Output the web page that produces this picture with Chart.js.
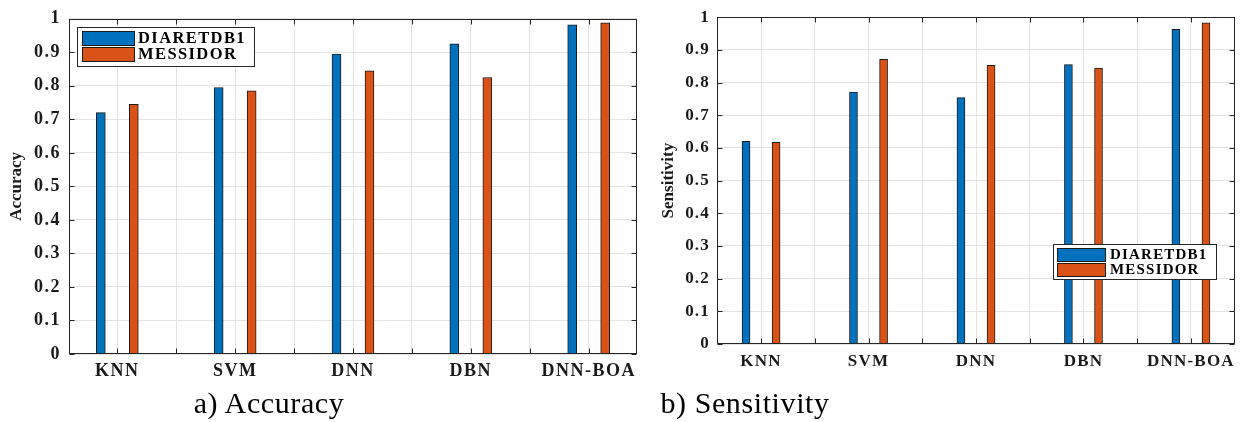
<!DOCTYPE html>
<html>
<head>
<meta charset="utf-8">
<script src="https://cdn.jsdelivr.net/npm/chart.js@4.4.1/dist/chart.umd.min.js"></script>
<style>
  html, body { margin: 0; padding: 0; background: #fff; }
  #wrap { position: relative; width: 1242px; height: 422px; overflow: hidden; }
  canvas { position: absolute; top: 0; }
  .cap {
    position: absolute; top: 386px; white-space: nowrap; color: #000;
    font-family: "Liberation Serif", "Times New Roman", serif; font-size: 30px;
    letter-spacing: 0.6px; transform: translateX(-50%);
  }
</style>
</head>
<body>
<div id="wrap">
  <canvas id="cAcc" width="645" height="390" style="left:0"></canvas>
  <canvas id="cSens" width="597" height="390" style="left:645px"></canvas>
  <div class="cap" style="left:269px">a) Accuracy</div>
  <div class="cap" style="left:745px">b) Sensitivity</div>
</div>
<script>
// ── data ─────────────────────────────────────────
const methods       = ['KNN', 'SVM', 'DNN', 'DBN', 'DNN-BOA'];
const seriesNames   = ['DIARETDB1', 'MESSIDOR'];
const accDiaretdb1  = [0.720, 0.795, 0.895, 0.925, 0.982];
const accMessidor   = [0.745, 0.785, 0.845, 0.825, 0.988];
const sensDiaretdb1 = [0.620, 0.771, 0.754, 0.855, 0.963];
const sensMessidor  = [0.617, 0.871, 0.853, 0.844, 0.983];
const yTicks        = [0, 0.1, 0.2, 0.3, 0.4, 0.5, 0.6, 0.7, 0.8, 0.9, 1];

const BLUE   = '#0072BD';
const ORANGE = '#D95319';
const SERIF  = '"Liberation Serif", "Times New Roman", serif';

// grid every half step, labels only on the whole positions
const xTicks = methods.flatMap((m, i) => i ? [i + 0.5, i + 1] : [i + 1]);

// ── box, inward ticks, y title and legend (MATLAB look) ──
const matlabBox = {
  id: 'matlabBox',
  beforeDraw(chart, args, o) {
    chart.ctx.letterSpacing = o.spacing;
  },
  afterDraw(chart, args, o) {
    const { ctx, chartArea: a, scales: { x, y } } = chart;
    const L = Math.round(a.left) + 0.5, R = Math.round(a.right) - 0.5;
    const T = Math.round(a.top) + 0.5,  B = Math.round(a.bottom) - 0.5;
    ctx.save();
    ctx.strokeStyle = '#262626';
    ctx.lineWidth = 1;
    ctx.strokeRect(L, T, R - L, B - T);
    ctx.beginPath();
    y.ticks.forEach(t => {
      const py = Math.round(y.getPixelForValue(t.value)) + 0.5;
      ctx.moveTo(L, py); ctx.lineTo(L + 5, py);
      ctx.moveTo(R, py); ctx.lineTo(R - 5, py);
    });
    x.ticks.forEach(t => {
      const px = Math.round(x.getPixelForValue(t.value)) + 0.5;
      ctx.moveTo(px, B); ctx.lineTo(px, B - 5);
      ctx.moveTo(px, T); ctx.lineTo(px, T + 5);
    });
    ctx.stroke();

    // y title
    ctx.letterSpacing = '0px';
    ctx.fillStyle = '#1a1a1a';
    ctx.font = `bold ${o.titleSize}px ${SERIF}`;
    ctx.textAlign = 'center';
    ctx.textBaseline = 'middle';
    ctx.translate(o.titleX, (a.top + a.bottom) / 2);
    ctx.rotate(-Math.PI / 2);
    ctx.fillText(o.title, 0, 0);
    ctx.setTransform(1, 0, 0, 1, 0, 0);

    // legend
    const lg = o.legend;
    ctx.fillStyle = '#fff';
    ctx.fillRect(lg.x, lg.y, lg.w, lg.h);
    ctx.strokeStyle = '#262626';
    ctx.strokeRect(lg.x + 0.5, lg.y + 0.5, lg.w, lg.h);
    ctx.letterSpacing = lg.spacing;
    ctx.font = `bold ${lg.font}px ${SERIF}`;
    ctx.textAlign = 'left';
    chart.data.datasets.forEach((ds, i) => {
      const ry = lg.rows[i];
      ctx.fillStyle = ds.backgroundColor;
      ctx.fillRect(lg.swX, ry, lg.swW, lg.rowH);
      ctx.strokeStyle = '#1a1a1a';
      ctx.strokeRect(lg.swX + 0.5, ry + 0.5, lg.swW, lg.rowH);
      ctx.fillStyle = '#000';
      ctx.fillText(ds.label, lg.textX, ry + lg.rowH / 2 + 1);
    });
    ctx.restore();
  }
};

function makeChart(id, s1, s2, cfg) {
  const mk = (vals, off) => vals.map((v, i) => ({ x: i + 1 + off, y: v }));
  return new Chart(document.getElementById(id), {
    type: 'bar',
    data: {
      datasets: [
        { label: seriesNames[0], data: mk(s1, -0.14), backgroundColor: BLUE,
          borderColor: '#1a1a1a', borderWidth: 1, barThickness: cfg.bar, grouped: false },
        { label: seriesNames[1], data: mk(s2, 0.14), backgroundColor: ORANGE,
          borderColor: '#1a1a1a', borderWidth: 1, barThickness: cfg.bar, grouped: false }
      ]
    },
    options: {
      responsive: false,
      animation: false,
      layout: { padding: { top: cfg.top, right: cfg.right, left: 0, bottom: 0 } },
      plugins: {
        legend: { display: false },
        tooltip: { enabled: false },
        matlabBox: { spacing: cfg.spacing, title: cfg.title, titleX: cfg.titleX, titleSize: 17, legend: cfg.legend }
      },
      scales: {
        x: {
          type: 'linear', min: 0.59, max: 5.41, offset: false,
          afterBuildTicks: s => { s.ticks = xTicks.map(v => ({ value: v })); },
          afterFit: s => { s.height = cfg.xHeight; },
          grid: { color: '#e3e3e3', drawTicks: false, offset: false },
          border: { display: false },
          ticks: {
            autoSkip: false, maxRotation: 0, padding: 7, color: '#1a1a1a',
            font: { family: SERIF, weight: 'bold', size: cfg.font },
            callback: v => Number.isInteger(v) ? methods[v - 1] : ''
          }
        },
        y: {
          min: 0, max: 1,
          afterBuildTicks: s => { s.ticks = yTicks.map(v => ({ value: v })); },
          afterFit: s => { s.width = cfg.yWidth; },
          grid: { color: '#e3e3e3', drawTicks: false },
          border: { display: false },
          ticks: {
            padding: cfg.yPad, color: '#1a1a1a',
            font: { family: SERIF, weight: 'bold', size: cfg.font },
            callback: v => String(+v.toFixed(1))
          }
        }
      }
    },
    plugins: [matlabBox]
  });
}

makeChart('cAcc', accDiaretdb1, accMessidor, {
  title: 'Accuracy', titleX: 17, top: 17, right: 8, xHeight: 36, yWidth: 69, yPad: 8,
  bar: 9, font: 18, spacing: '1.5px',
  legend: { x: 77, y: 27, w: 177, h: 39, swX: 82, swW: 52, rows: [31, 47], rowH: 14,
            textX: 138, font: 16.5, spacing: '1.4px' }
});

makeChart('cSens', sensDiaretdb1, sensMessidor, {
  title: 'Sensitivity', titleX: 24, top: 15, right: 7, xHeight: 46, yWidth: 72, yPad: 7,
  bar: 8, font: 17, spacing: '1.2px',
  legend: { x: 408, y: 244, w: 163, h: 35, swX: 412, swW: 48, rows: [248, 263], rowH: 13,
            textX: 465, font: 15, spacing: '1.2px' }
});
</script>
</body>
</html>
